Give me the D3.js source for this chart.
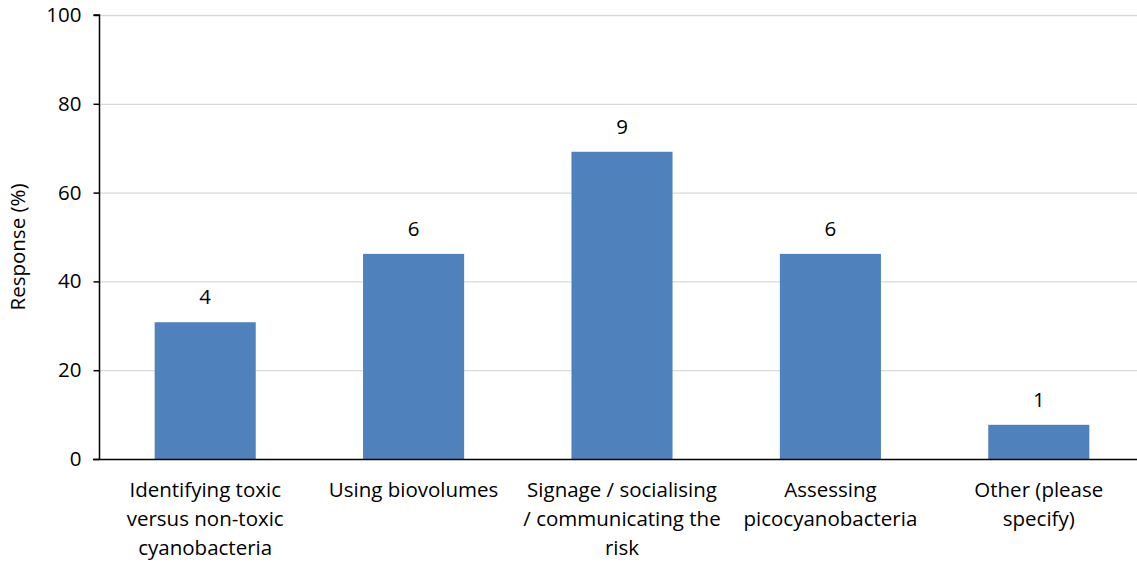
<!DOCTYPE html>
<html>
<head>
<meta charset="utf-8">
<script src="https://cdn.jsdelivr.net/npm/d3@7"></script>
<style>
  html, body { margin: 0; padding: 0; background: #fff; }
  svg text { font-family: "Open Sans", Lato, sans-serif; fill: #000; }
</style>
</head>
<body>
<svg id="chart" width="1137" height="563"></svg>
<script>
// Survey responses: share of respondents (%) and respondent counts
const categories = [
  ["Identifying toxic", "versus non-toxic", "cyanobacteria"],
  ["Using biovolumes"],
  ["Signage / socialising", "/ communicating the", "risk"],
  ["Assessing", "picocyanobacteria"],
  ["Other (please", "specify)"]
];
const responsePct = [30.8, 46.2, 69.2, 46.2, 7.7];
const responseCount = [4, 6, 9, 6, 1];
const yTicks = [0, 20, 40, 60, 80, 100];

const fontSize = 20.5;
const svg = d3.select("#chart");
const margin = { left: 99, top: 15, bottom: 104 };
const width = 1137, height = 563;
const plotBottom = height - margin.bottom;

const x = d3.scaleBand()
  .domain(d3.range(categories.length))
  .range([margin.left + 2, 1143])
  .paddingInner(0.515)
  .paddingOuter(0.2575);

const y = d3.scaleLinear().domain([0, 100]).range([plotBottom, margin.top]);

// gridlines
svg.append("g")
  .selectAll("line")
  .data(yTicks.filter(d => d > 0))
  .join("line")
  .attr("x1", margin.left).attr("x2", width)
  .attr("y1", d => y(d) + 0.5).attr("y2", d => y(d) + 0.5)
  .attr("stroke", "#d9d9d9").attr("stroke-width", 1.3);

// bars
svg.append("g")
  .selectAll("rect")
  .data(responsePct)
  .join("rect")
  .attr("x", (d, i) => x(i))
  .attr("width", x.bandwidth())
  .attr("y", d => y(d))
  .attr("height", d => plotBottom - y(d))
  .attr("fill", "#4f81bd");

// value labels
svg.append("g")
  .selectAll("text")
  .data(responsePct)
  .join("text")
  .attr("x", (d, i) => x(i) + x.bandwidth() / 2)
  .attr("y", d => y(d) - 18)
  .attr("text-anchor", "middle")
  .attr("font-size", fontSize)
  .text((d, i) => responseCount[i]);

// y axis
const yAxis = svg.append("g")
  .attr("transform", `translate(${margin.left + 0.5},0)`)
  .call(d3.axisLeft(y).tickValues(yTicks).tickSize(6).tickPadding(12));
yAxis.select(".domain").attr("stroke", "#000").attr("stroke-width", 1.5)
  .attr("d", `M-6,${y(100)}H0V${plotBottom}`);
yAxis.selectAll(".tick line").attr("stroke", "#000").attr("stroke-width", 1.5);
yAxis.selectAll(".tick text").attr("font-size", fontSize)
  .attr("font-family", "'Open Sans', sans-serif").attr("fill", "#000");

// x axis baseline
svg.append("line")
  .attr("x1", margin.left - 6).attr("x2", width)
  .attr("y1", plotBottom + 0.5).attr("y2", plotBottom + 0.5)
  .attr("stroke", "#000").attr("stroke-width", 1.5);

// category labels
const catG = svg.append("g")
  .selectAll("text")
  .data(categories)
  .join("text")
  .attr("text-anchor", "middle")
  .attr("font-size", fontSize)
  .attr("x", (d, i) => x(i) + x.bandwidth() / 2)
  .attr("y", plotBottom + 38);
catG.selectAll("tspan")
  .data(d => d)
  .join("tspan")
  .attr("x", function () { return d3.select(this.parentNode).attr("x"); })
  .attr("dy", (d, i) => i === 0 ? 0 : 29)
  .text(d => d);

// y axis title
svg.append("text")
  .attr("transform", `translate(25,247) rotate(-90)`)
  .attr("text-anchor", "middle")
  .attr("font-size", fontSize)
  .text("Response (%)");
</script>
</body>
</html>
